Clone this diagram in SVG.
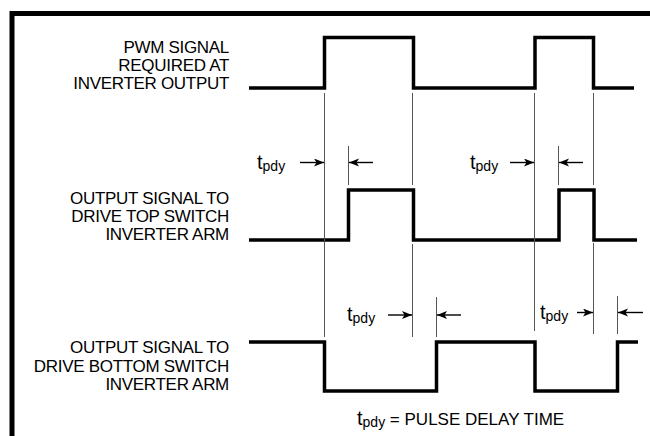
<svg xmlns="http://www.w3.org/2000/svg" width="650" height="436" viewBox="0 0 650 436">
<defs>
<marker id="ah" markerUnits="userSpaceOnUse" markerWidth="12" markerHeight="9" refX="10" refY="4" orient="auto">
<path d="M0,0 L10,4 L0,8 L2.5,4 Z" fill="#000"/>
</marker>
</defs>
<style>
.frame{fill:none;stroke:#000;stroke-width:5}
.wave{fill:none;stroke:#000;stroke-width:3.5;stroke-linejoin:miter;stroke-linecap:butt}
.guide{stroke:#555;stroke-width:1;fill:none}
.arr{stroke:#000;stroke-width:1.4;fill:none;marker-end:url(#ah)}
.lbl{font-family:"Liberation Sans",Arial,sans-serif;font-size:17px;letter-spacing:-0.3px;fill:#000;text-anchor:end}
.t{font-family:"Liberation Sans",Arial,sans-serif;font-size:20px;fill:#000}
.sub{font-size:14px}
.leg{font-family:"Liberation Sans",Arial,sans-serif;font-size:17px;fill:#000}
</style>
<rect width="650" height="436" fill="#fff"/>
<path class="frame" d="M12,436 V13.5 H650"/>

<g id="label-pwm">
<text class="lbl" x="229" y="53">PWM SIGNAL</text>
<text class="lbl" x="229" y="71">REQUIRED AT</text>
<text class="lbl" x="229" y="89">INVERTER OUTPUT</text>
</g>
<g id="label-top">
<text class="lbl" x="229" y="204">OUTPUT SIGNAL TO</text>
<text class="lbl" x="229" y="222">DRIVE TOP SWITCH</text>
<text class="lbl" x="229" y="240">INVERTER ARM</text>
</g>
<g id="label-bottom">
<text class="lbl" x="229" y="353">OUTPUT SIGNAL TO</text>
<text class="lbl" x="229" y="371.5">DRIVE BOTTOM SWITCH</text>
<text class="lbl" x="229" y="390">INVERTER ARM</text>
</g>

<g id="wave-pwm">
<path class="wave" d="M249,88 H324.5 V37.5 H413.5 V88 H535 V37.5 H593.5 V88 H634"/>
</g>
<g id="wave-top">
<path class="wave" d="M249,240 H348.5 V190 H413.5 V240 H559 V190 H594 V240 H637"/>
</g>
<g id="wave-bottom">
<path class="wave" d="M249,342 H324.5 V391 H436.5 V342 H535 V391 H617.5 V342 H638"/>
</g>

<g id="connectors">
<line class="guide" x1="324.5" y1="93" x2="324.5" y2="337"/>
<line class="guide" x1="412.5" y1="93" x2="412.5" y2="185"/>
<line class="guide" x1="412.5" y1="244" x2="412.5" y2="337"/>
<line class="guide" x1="348.5" y1="146" x2="348.5" y2="185"/>
<line class="guide" x1="534.5" y1="93" x2="534.5" y2="331"/>
<line class="guide" x1="593.5" y1="93" x2="593.5" y2="185"/>
<line class="guide" x1="593.5" y1="243" x2="593.5" y2="334"/>
<line class="guide" x1="558.5" y1="146" x2="558.5" y2="185"/>
<line class="guide" x1="436.5" y1="297" x2="436.5" y2="337"/>
<line class="guide" x1="617.5" y1="296" x2="617.5" y2="334"/>

<line class="arr" x1="300" y1="162.5" x2="324" y2="162.5"/>
<line class="arr" x1="373" y1="162.5" x2="349" y2="162.5"/>
<line class="arr" x1="510" y1="162.5" x2="534" y2="162.5"/>
<line class="arr" x1="583" y1="162.5" x2="559" y2="162.5"/>
<line class="arr" x1="388" y1="315" x2="412" y2="315"/>
<line class="arr" x1="461" y1="315" x2="437" y2="315"/>
<line class="arr" x1="577" y1="312.5" x2="593" y2="312.5"/>
<line class="arr" x1="643" y1="312.5" x2="618" y2="312.5"/>
</g>

<g id="tpdy-labels">
<text class="t" x="257" y="169">t<tspan class="sub" dy="2">pdy</tspan></text>
<text class="t" x="470" y="169">t<tspan class="sub" dy="2">pdy</tspan></text>
<text class="t" x="347" y="321">t<tspan class="sub" dy="2">pdy</tspan></text>
<text class="t" x="540" y="319">t<tspan class="sub" dy="2">pdy</tspan></text>
</g>

<g id="legend">
<text class="leg" x="357" y="425"><tspan font-size="20">t</tspan><tspan class="sub" dy="2">pdy</tspan><tspan dy="-2"> = PULSE DELAY TIME</tspan></text>
</g>
</svg>
